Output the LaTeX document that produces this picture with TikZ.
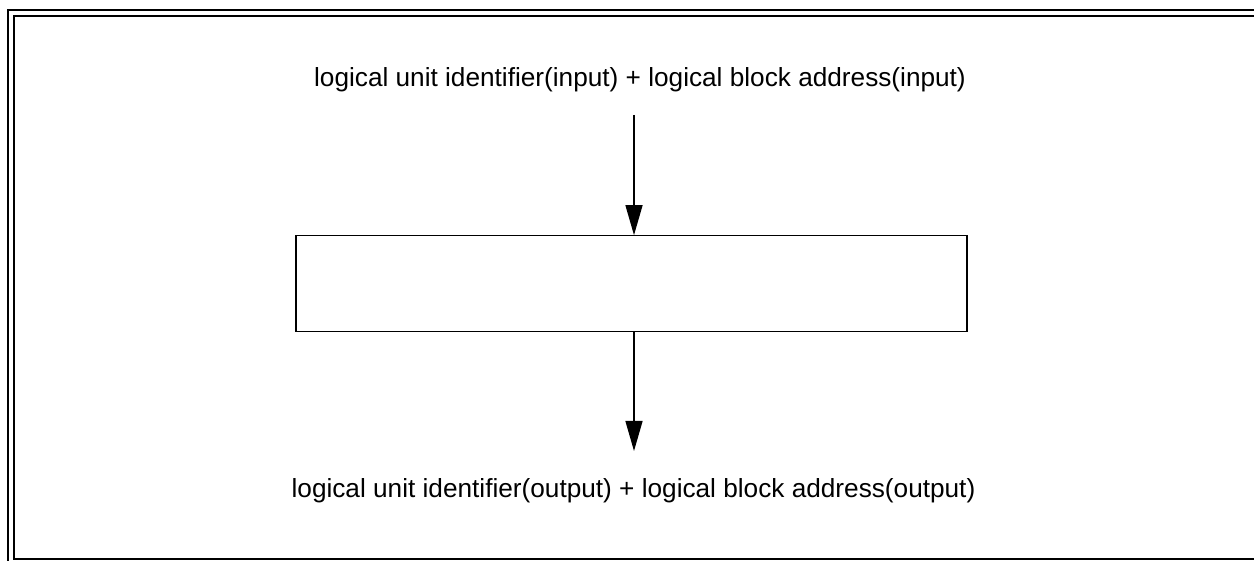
\documentclass[tikz,border=0pt]{standalone}
\usepackage{fontspec}
\setmainfont{Liberation Sans}
\usetikzlibrary{arrows.meta}

\begin{document}
\begin{tikzpicture}[x=1pt, y=-1pt,
	frameline/.style={line width=2pt},
	label/.style={inner sep=0pt, anchor=base, font=\fontsize{26.2}{30}\selectfont},
	mapbox/.style={draw, line width=1.3pt, minimum width=671pt, minimum height=96pt, inner sep=0pt},
	flow/.style={line width=1.3pt, -{Triangle[length=30pt, width=17pt]}}]
			%%%%% START %%%%%
			
			\useasboundingbox (0, 0) rectangle (1254, 561);
			
			\draw[frameline] (7.5, 561) -- (7.5, 10) -- (1254, 10);
			\draw[frameline] (1254, 16) -- (14, 16) -- (14, 558.5) -- (1254, 558.5);
			
			\node[label] (in) at (640, 86.7) {logical unit identifier(input) + logical block address(input)};
			\node[mapbox] (box) at (631.5, 283.8) {};
			\node[label] (out) at (633.5, 497) {logical unit identifier(output) + logical block address(output)};
			
			\coordinate (top) at (634, 115);
			\coordinate (bot) at (634, 451);
			
			\draw[flow] (top) -- (top |- box.north);
			\draw[flow] (bot |- box.south) -- (bot);
			
			%%%%% END %%%%%
\end{tikzpicture}
\end{document}
